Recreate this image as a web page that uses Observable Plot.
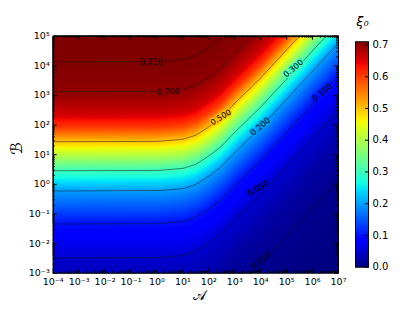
<!DOCTYPE html>
<html><head><meta charset="utf-8">
<script src="https://cdn.jsdelivr.net/npm/d3@7"></script>
<script src="https://cdn.jsdelivr.net/npm/@observablehq/plot@0.6"></script>
<style>
body{margin:0;background:#fff}
#wrap{position:relative;width:420px;height:315px;font-family:"DejaVu Sans",sans-serif}
#wrap svg{position:absolute;top:0}
</style>
</head><body><div id="wrap"></div>
<script>
// contour levels drawn
const levels = [0.01, 0.05, 0.1, 0.2, 0.3, 0.5, 0.7, 0.71];
// xi0 along log10(B) where the contours are flat (small A)
const profileLogB = [-8, -6, -4.85, -3.7, -2.48, -1.33, -0.22, 0.46, 0.95, 1.44, 1.9, 2.35, 3.1, 4.11, 6];
const profileXi   = [0.001, 0.005, 0.01, 0.022, 0.05, 0.1, 0.2, 0.3, 0.4, 0.5, 0.6, 0.66, 0.70, 0.71, 0.714];
// upward shift (decades of B) of the contours as a function of log10(A)
const shiftLogA = [-4, 0, 1, 1.5, 2, 2.45, 3, 4, 5, 6, 7];
const shiftDec  = [0, 0.01, 0.08, 0.22, 0.5, 0.8, 1.3, 2.15, 3.1, 4.05, 5.0];
// contour labels
const labelText  = ["0.710", "0.700", "0.500", "0.300", "0.200", "0.100", "0.050", "0.010"];
const labelLevel = [0.71, 0.7, 0.5, 0.3, 0.2, 0.1, 0.05, 0.01];
const labelLogA  = [-0.21, 0.44, 2.46, 5.26, 3.99, 6.38, 3.91, 4.03];
const labelLogB  = [4.11, 3.13, 2.26, 3.91, 1.95, 3.10, -0.14, -2.57];
const labelAngle = [0, -3, -32, -40, -40, -40, -30, -38];
// ticks
const majorX = [1e-4,1e-3,1e-2,1e-1,1e0,1e1,1e2,1e3,1e4,1e5,1e6,1e7];
const majorY = [1e-3,1e-2,1e-1,1e0,1e1,1e2,1e3,1e4,1e5];
const cbTicks = [0,0.1,0.2,0.3,0.4,0.5,0.6,0.7];

const minorX = [], minorY = [];
for (let e = -4; e < 7; e++) for (let k = 2; k <= 9; k++) minorX.push(k * 10 ** e);
for (let e = -3; e < 5; e++) for (let k = 2; k <= 9; k++) minorY.push(k * 10 ** e);

const prof = d3.scaleLinear().domain(profileLogB).range(profileXi).clamp(true);
const shift = d3.scaleLinear().domain(shiftLogA).range(shiftDec).clamp(true);
const xi = (a, b) => prof(Math.log10(b) - shift(Math.log10(a)));

function seg(pts, t) {
  for (let i = 1; i < pts.length; i++) {
    if (t <= pts[i][0]) {
      const [x0, y0] = pts[i-1], [x1, y1] = pts[i];
      return y0 + (y1 - y0) * (t - x0) / (x1 - x0);
    }
  }
  return pts[pts.length-1][1];
}
const R = [[0,0],[0.35,0],[0.66,1],[0.89,1],[1,0.5]];
const G = [[0,0],[0.125,0],[0.375,1],[0.64,1],[0.91,0],[1,0]];
const B = [[0,0.5],[0.11,1],[0.34,1],[0.65,0],[1,0]];
const jet = (t) => {
  t = Math.max(0, Math.min(1, t));
  return `rgb(${Math.round(255*seg(R,t))},${Math.round(255*seg(G,t))},${Math.round(255*seg(B,t))})`;
};

const supMap = {"-":"⁻","0":"⁰","1":"¹","2":"²","3":"³","4":"⁴","5":"⁵","6":"⁶","7":"⁷","8":"⁸","9":"⁹"};
const sup = (v) => "10" + String(Math.round(Math.log10(v))).split("").map(c => supMap[c]).join("");

const colorOpt = {type: "linear", domain: [0, 0.71], interpolate: jet, clamp: true};
const FH = 237, FW = 285.3;
const idx = d3.range(labelText.length);

const main = Plot.plot({
  width: 350, height: 315,
  marginLeft: 52.7, marginRight: 12, marginTop: 35.7, marginBottom: 42.3,
  x: {type: "log", domain: [1e-4, 1e7]},
  y: {type: "log", domain: [1e-3, 1e5]},
  color: colorOpt,
  style: {fontFamily: "DejaVu Sans", fontSize: "9px", background: "white", color: "black"},
  marks: [
    Plot.raster({fill: (a, b) => xi(a, b), x1: 1e-4, x2: 1e7, y1: 1e-3, y2: 1e5}),
    Plot.contour({value: (a, b) => xi(a, b), x1: 1e-4, x2: 1e7, y1: 1e-3, y2: 1e5,
      thresholds: levels, fill: "none", stroke: "#111", strokeWidth: 0.6, strokeOpacity: 0.85}),
    Plot.text(idx, {x: i => 10 ** labelLogA[i], y: i => 10 ** labelLogB[i], text: i => labelText[i],
      rotate: i => labelAngle[i], stroke: i => labelLevel[i], strokeWidth: 3, paintOrder: "stroke",
      fill: "black", fontSize: 8}),
    Plot.tickX(majorX, {x: d => d, insetTop: FH - 4, stroke: "black"}),
    Plot.tickX(majorX, {x: d => d, insetBottom: FH - 4, stroke: "black"}),
    Plot.tickX(minorX, {x: d => d, insetTop: FH - 2, stroke: "black"}),
    Plot.tickX(minorX, {x: d => d, insetBottom: FH - 2, stroke: "black"}),
    Plot.tickY(majorY, {y: d => d, insetRight: FW - 4, stroke: "black"}),
    Plot.tickY(majorY, {y: d => d, insetLeft: FW - 4, stroke: "black"}),
    Plot.tickY(minorY, {y: d => d, insetRight: FW - 2, stroke: "black"}),
    Plot.tickY(minorY, {y: d => d, insetLeft: FW - 2, stroke: "black"}),
    Plot.frame({stroke: "black", strokeWidth: 1}),
    Plot.axisX({ticks: majorX, tickFormat: sup, tickSize: 0, tickPadding: 5, label: null, fontSize: 9.5}),
    Plot.axisY({ticks: majorY, tickFormat: sup, tickSize: 0, tickPadding: 3.5, label: null, fontSize: 9.5}),
    Plot.text(["𝒜"], {frameAnchor: "bottom", dx: 4, dy: 27, fontSize: 14}),
    Plot.text(["ℬ"], {frameAnchor: "left", dx: -36, dy: 0, fontSize: 16, fontStyle: "italic", rotate: -90})
  ]
});

const cb = Plot.plot({
  width: 70, height: 315,
  marginLeft: 5, marginRight: 52, marginTop: 41.3, marginBottom: 48.3,
  x: {domain: [0, 1], axis: null},
  y: {domain: [0, 0.71], axis: null},
  color: colorOpt,
  style: {fontFamily: "DejaVu Sans", fontSize: "9.5px", background: "transparent", color: "black"},
  marks: [
    Plot.raster({fill: (x, y) => y, x1: 0, x2: 1, y1: 0, y2: 0.71}),
    Plot.tickY(cbTicks, {y: d => d, insetLeft: 10, stroke: "black"}),
    Plot.frame({stroke: "black", strokeWidth: 1}),
    Plot.axisY({anchor: "right", ticks: cbTicks, tickFormat: d3.format(".1f"), tickSize: 0, tickPadding: 4, label: null, fontSize: 10}),
    Plot.text(["ξ₀"], {frameAnchor: "top", dx: 0.5, dy: -25, fontSize: 13, fontStyle: "italic"})
  ]
});

const wrap = document.getElementById("wrap");
main.style.left = "0px";
cb.style.left = "350px";
wrap.appendChild(main);
wrap.appendChild(cb);
</script>
</body></html>
